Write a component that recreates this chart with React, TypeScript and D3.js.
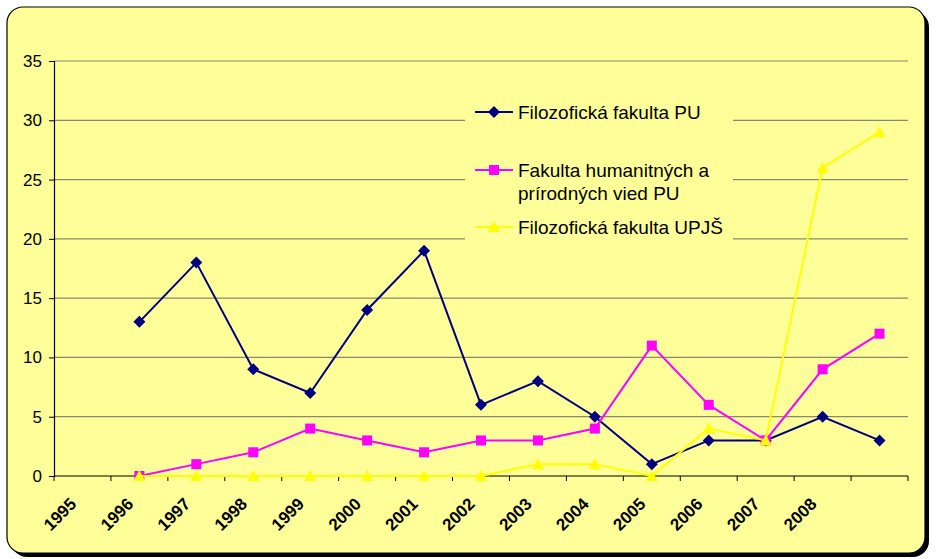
import React, { useEffect, useRef } from 'react';
import * as d3 from 'd3';

const years = ['1995', '1996', '1997', '1998', '1999', '2000', '2001', '2002', '2003', '2004', '2005', '2006', '2007', '2008', ''];
const ffPU = [null, 13, 18, 9, 7, 14, 19, 6, 8, 5, 1, 3, 3, 5, 3];
const fhpvPU = [null, 0, 1, 2, 4, 3, 2, 3, 3, 4, 11, 6, 3, 9, 12];
const ffUPJS = [null, 0, 0, 0, 0, 0, 0, 0, 1, 1, 0, 4, 3, 26, 29];
const yTicks = [0, 5, 10, 15, 20, 25, 30, 35];

const series = [
  { name: ['Filozofická fakulta PU'], values: ffPU, color: '#000080', marker: 'diamond' },
  { name: ['Fakulta humanitných a', 'prírodných vied PU'], values: fhpvPU, color: '#FF00FF', marker: 'square' },
  { name: ['Filozofická fakulta UPJŠ'], values: ffUPJS, color: '#FFFF00', marker: 'triangle' },
];

const W = 936;
const H = 559;
const margin = { top: 61, right: 28, bottom: 83, left: 54 };

const App = () => {
  const svgRef = useRef(null);

  useEffect(() => {
    const svg = d3.select(svgRef.current);
    svg.selectAll('*').remove();

    // background box with shadow
    svg.append('rect').attr('x', 11).attr('y', 11).attr('width', 918).attr('height', 546)
      .attr('rx', 16).attr('fill', '#000');
    svg.append('rect').attr('x', 7).attr('y', 7).attr('width', 918).attr('height', 546)
      .attr('rx', 16).attr('fill', '#FFFF99').attr('stroke', '#000').attr('stroke-width', 1.2);

    const x = d3.scaleBand().domain(years.map((d, i) => String(i)))
      .range([margin.left, W - margin.right]);
    const y = d3.scaleLinear().domain([0, 35]).range([H - margin.bottom, margin.top]);
    const cx = (i) => x(String(i)) + x.bandwidth() / 2;

    // grid
    svg.append('g').selectAll('line').data(yTicks.filter(t => t > 0)).join('line')
      .attr('x1', margin.left).attr('x2', W - margin.right)
      .attr('y1', d => y(d)).attr('y2', d => y(d))
      .attr('stroke', '#8a8a6a').attr('stroke-width', 1.2);

    // legend background hides grid
    svg.append('rect').attr('x', 465).attr('y', 88).attr('width', 268).attr('height', 158)
      .attr('fill', '#FFFF99');

    // y axis
    const yAxis = svg.append('g').attr('transform', `translate(${margin.left},0)`)
      .call(d3.axisLeft(y).tickValues(yTicks).tickSize(5).tickPadding(7));
    yAxis.select('.domain').attr('stroke', '#000').attr('stroke-width', 1.2);
    yAxis.selectAll('.tick line').attr('stroke', '#000');
    yAxis.selectAll('text').attr('font-family', 'Liberation Sans, Arial, sans-serif')
      .attr('font-size', 17).attr('fill', '#000');

    // x axis line + ticks at category boundaries
    const y0 = y(0);
    svg.append('line').attr('x1', margin.left).attr('x2', W - margin.right)
      .attr('y1', y0).attr('y2', y0).attr('stroke', '#000').attr('stroke-width', 1.2);
    svg.append('g').selectAll('line').data(d3.range(years.length + 1)).join('line')
      .attr('x1', d => margin.left + d * x.step()).attr('x2', d => margin.left + d * x.step())
      .attr('y1', y0).attr('y2', y0 + 5).attr('stroke', '#000');
    svg.append('g').selectAll('text').data(years).join('text')
      .attr('transform', (d, i) => `translate(${cx(i) - 5},${y0 + 29}) rotate(-45)`)
      .attr('text-anchor', 'end')
      .attr('font-family', 'Liberation Sans, Arial, sans-serif')
      .attr('font-size', 17).attr('font-weight', 'bold').attr('fill', '#000')
      .text(d => d);

    const drawMarker = (g, type, color, px, py) => {
      if (type === 'diamond') {
        g.append('path').attr('d', `M${px},${py - 6}L${px + 6},${py}L${px},${py + 6}L${px - 6},${py}Z`)
          .attr('fill', color);
      } else if (type === 'square') {
        g.append('rect').attr('x', px - 5).attr('y', py - 5).attr('width', 10).attr('height', 10)
          .attr('fill', color);
      } else {
        g.append('path').attr('d', `M${px},${py - 6}L${px + 6},${py + 5}L${px - 6},${py + 5}Z`)
          .attr('fill', color);
      }
    };

    const line = d3.line()
      .defined(d => d.v !== null)
      .x(d => cx(d.i))
      .y(d => y(d.v));

    series.forEach((s) => {
      const pts = s.values.map((v, i) => ({ v, i }));
      const g = svg.append('g');
      g.append('path').attr('d', line(pts)).attr('fill', 'none')
        .attr('stroke', s.color).attr('stroke-width', 2);
      pts.filter(p => p.v !== null).forEach(p => drawMarker(g, s.marker, s.color, cx(p.i), y(p.v)));
    });

    // legend
    const legendRows = [112, 170, 227];
    series.forEach((s, k) => {
      const ly = legendRows[k];
      const g = svg.append('g');
      g.append('line').attr('x1', 475).attr('x2', 513).attr('y1', ly).attr('y2', ly)
        .attr('stroke', s.color).attr('stroke-width', 2);
      drawMarker(g, s.marker, s.color, 494, ly);
      s.name.forEach((t, j) => {
        g.append('text').attr('x', 518).attr('y', ly + 7 + j * 23)
          .attr('font-family', 'Liberation Sans, Arial, sans-serif')
          .attr('font-size', 19).attr('fill', '#000').text(t);
      });
    });
  }, []);

  return (
    <svg ref={svgRef} width={W} height={H}
      style={{ position: 'absolute', left: 0, top: 0, background: '#fff' }} />
  );
};

export default App;
